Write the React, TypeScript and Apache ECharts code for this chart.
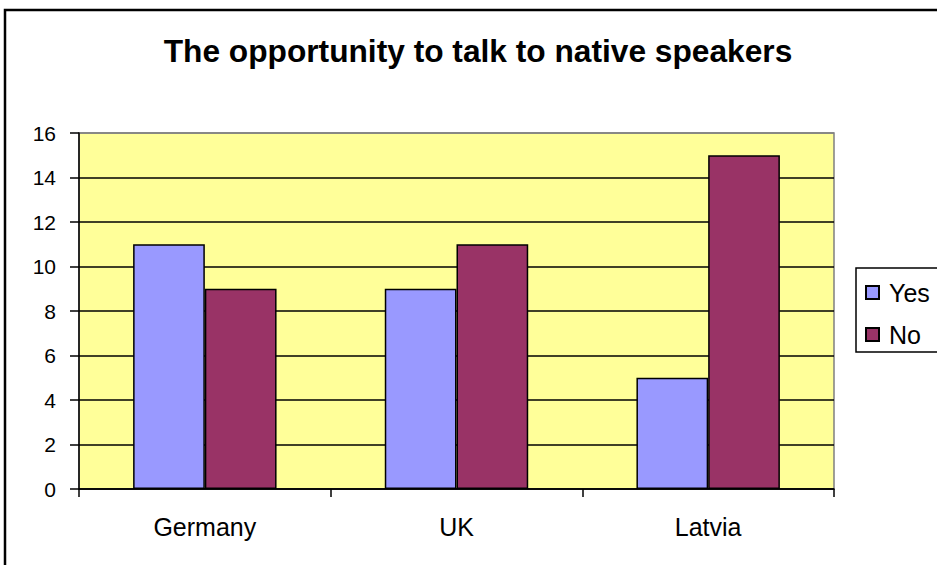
import React, { useEffect, useRef } from "react";
import * as echarts from "echarts";

const categories = ["Germany", "UK", "Latvia"];
const seriesNames = ["Yes", "No"];
const yesValues = [11, 9, 5];
const noValues = [9, 11, 15];
const yTicks = { min: 0, max: 16, interval: 2 };
const titleText = "The opportunity to talk to native speakers";

const FONT = "'Liberation Sans', Arial, sans-serif";

export default function App() {
  const ref = useRef<HTMLDivElement>(null);
  useEffect(() => {
    if (!ref.current) return;
    const chart = echarts.init(ref.current, null, { renderer: "svg" });
    const lineCount = (yTicks.max - yTicks.min) / yTicks.interval + 1;
    const splitColors = Array.from({ length: lineCount }, (_, i) =>
      i === lineCount - 1 ? "#808080" : "#000000"
    );
    chart.setOption({
      animation: false,
      backgroundColor: "#ffffff",
      textStyle: { fontFamily: FONT },
      grid: {
        left: 79,
        top: 133,
        right: 103,
        bottom: 76,
        show: true,
        backgroundColor: "#FFFF99",
        borderColor: "#808080",
        borderWidth: 1.5,
      },
      xAxis: {
        type: "category",
        data: categories,
        axisLine: { lineStyle: { color: "#000", width: 1.5 } },
        axisTick: { show: true, length: 8, interval: 0, lineStyle: { color: "#000", width: 1.5 } },
        axisLabel: { color: "#000", fontSize: 25, margin: 25, fontFamily: FONT },
      },
      yAxis: {
        type: "value",
        min: yTicks.min,
        max: yTicks.max,
        interval: yTicks.interval,
        axisLine: { show: true, lineStyle: { color: "#000", width: 1.5 } },
        axisTick: { show: true, length: 9, lineStyle: { color: "#000", width: 1.5 } },
        axisLabel: { color: "#000", fontSize: 21, margin: 23, fontFamily: FONT },
        splitLine: { show: true, lineStyle: { color: splitColors, width: 1.5 } },
      },
      legend: {
        orient: "vertical",
        left: 865,
        top: 280,
        padding: 0,
        itemWidth: 13,
        itemHeight: 13,
        itemGap: 17,
        icon: "rect",
        data: seriesNames,
        textStyle: { fontSize: 25, color: "#000", fontFamily: FONT, padding: [0, 0, 0, 5] },
      },
      series: [
        {
          name: seriesNames[0],
          type: "bar",
          data: yesValues,
          barGap: "0%",
          barCategoryGap: "43%",
          itemStyle: { color: "#9999FF", borderColor: "#000", borderWidth: 1.5 },
        },
        {
          name: seriesNames[1],
          type: "bar",
          data: noValues,
          barGap: "0%",
          barCategoryGap: "43%",
          itemStyle: { color: "#993366", borderColor: "#000", borderWidth: 1.5 },
        },
      ],
      graphic: [
        {
          type: "rect",
          shape: { x: 5, y: 10, width: 1000, height: 700 },
          style: { fill: "none", stroke: "#000", lineWidth: 2.5 },
          silent: true,
        },
        {
          type: "rect",
          shape: { x: 856, y: 268, width: 120, height: 84 },
          style: { fill: "none", stroke: "#000", lineWidth: 1.5 },
          silent: true,
        },
        {
          type: "text",
          x: 478,
          y: 51,
          style: {
            text: titleText,
            fontSize: 31.7,
            fontWeight: "bold",
            fontFamily: FONT,
            fill: "#000",
            align: "center",
            verticalAlign: "middle",
          },
          silent: true,
        },
      ],
    });
    return () => chart.dispose();
  }, []);
  return (
    <div style={{ position: "fixed", left: 0, top: 0, width: 937, height: 565, overflow: "hidden" }}>
      <div ref={ref} style={{ width: 937, height: 565 }} />
    </div>
  );
}
